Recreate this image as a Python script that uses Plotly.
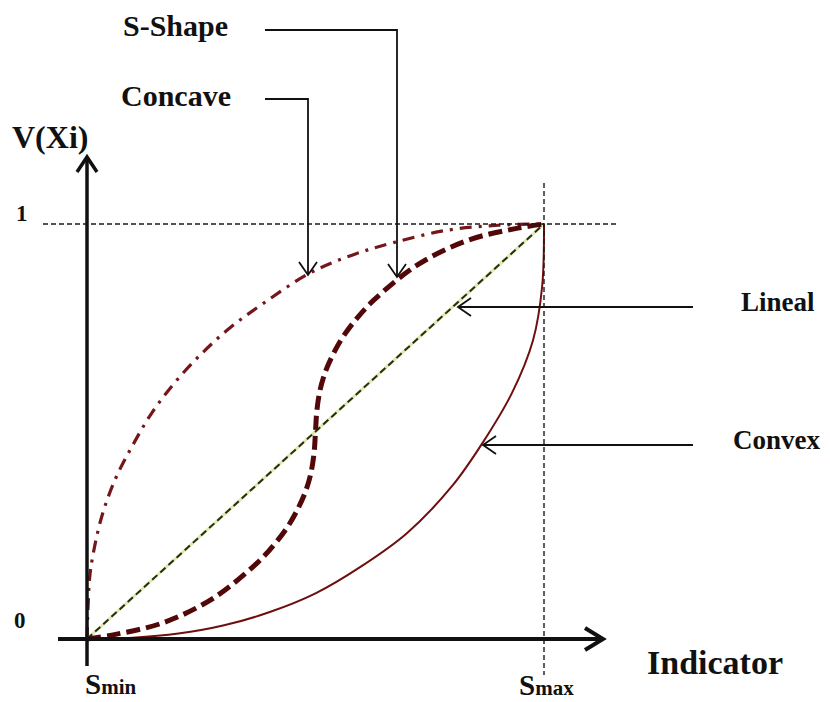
import plotly.graph_objects as go

# ---------------- data ----------------
lineal_x = [0.0, 1.0]
lineal_y = [0.0, 1.0]

concave_x = [0.0, 0.002, 0.006, 0.013, 0.032, 0.061, 0.098, 0.142, 0.193, 0.252,
             0.313, 0.385, 0.488, 0.580, 0.670, 0.788, 0.900, 1.0]
concave_y = [0.0, 0.07, 0.15, 0.202, 0.294, 0.383, 0.463, 0.545, 0.619, 0.689,
             0.750, 0.808, 0.882, 0.925, 0.955, 0.985, 0.997, 1.0]

sshape_x = [0.0, 0.057, 0.166, 0.276, 0.372, 0.410, 0.440, 0.462, 0.478, 0.490,
            0.497, 0.500, 0.503, 0.510, 0.522, 0.538, 0.560, 0.590, 0.628,
            0.724, 0.834, 0.943, 1.0]
sshape_y = [0.0, 0.010, 0.039, 0.098, 0.183, 0.228, 0.272, 0.315, 0.355, 0.400,
            0.450, 0.500, 0.550, 0.600, 0.645, 0.685, 0.728, 0.772, 0.817,
            0.902, 0.961, 0.990, 1.0]

convex_x = [0.0, 0.100, 0.200, 0.300, 0.400, 0.500, 0.600, 0.700, 0.800,
            0.867, 0.930, 0.976, 0.996, 1.0]
convex_y = [0.0, 0.003, 0.013, 0.033, 0.065, 0.110, 0.175, 0.255, 0.370,
            0.475, 0.593, 0.720, 0.850, 1.0]

curve_labels = ["S-Shape", "Concave", "Lineal", "Convex"]
axis_labels = {"y": "V(Xi)", "x": "Indicator", "one": "1", "zero": "0"}

# ---------------- layout helpers (reference pixel -> data) ----------------
PAGE_OFF = 8          # body margin of the html page
W, H = 830 - PAGE_OFF, 702 - PAGE_OFF
OX, OY = 87, 639      # reference pixel position of data origin
SX, SY = 457, 415     # pixels per data unit


def X(px):
    return (px - OX) / SX


def Y(py):
    return (OY - py) / SY


FONT = "Liberation Serif, Times New Roman, serif"
MAROON = "#6e0f0f"
DARK = "#111111"

fig = go.Figure()

# Lineal: light yellow-green underlay + dark dashes
fig.add_trace(go.Scatter(x=lineal_x, y=lineal_y, mode="lines",
                         line=dict(color="#dfe9b0", width=3), hoverinfo="skip"))
fig.add_trace(go.Scatter(x=lineal_x, y=lineal_y, mode="lines",
                         line=dict(color="#22300c", width=2, dash="7px,4px"),
                         hoverinfo="skip"))
# Concave (dash-dot)
fig.add_trace(go.Scatter(x=concave_x, y=concave_y, mode="lines",
                         line=dict(color="#74161a", width=3.2, dash="12px,7px,3px,7px",
                                   shape="spline", smoothing=1.0),
                         hoverinfo="skip"))
# S-shape (thick dashed)
fig.add_trace(go.Scatter(x=sshape_x, y=sshape_y, mode="lines",
                         line=dict(color="#520808", width=5, dash="14px,6px",
                                   shape="spline", smoothing=1.0),
                         hoverinfo="skip"))
# Convex (solid)
fig.add_trace(go.Scatter(x=convex_x, y=convex_y, mode="lines",
                         line=dict(color=MAROON, width=2, shape="spline", smoothing=1.0),
                         hoverinfo="skip"))

shapes = []


def seg(x0, y0, x1, y1, color=DARK, width=2, dash="solid"):
    shapes.append(dict(type="line", xref="x", yref="y", x0=x0, y0=y0, x1=x1, y1=y1,
                       line=dict(color=color, width=width, dash=dash)))


def path(pts, color=DARK, width=2):
    d = "M " + " L ".join(f"{px},{py}" for px, py in pts)
    shapes.append(dict(type="path", xref="x", yref="y", path=d,
                       line=dict(color=color, width=width)))


# guide lines at 1 and Smax
seg(X(43), 1, X(618), 1, color="#1a1a1a", width=1.6, dash="5px,3px")
seg(1, Y(183), 1, Y(675), color="#1a1a1a", width=1.4, dash="5px,3px")

# axes with open arrowheads
seg(0, Y(666), 0, Y(158), width=3.5)
path([(X(77), Y(172)), (0, Y(157)), (X(97), Y(172))], width=3.5)
seg(X(58), 0, X(601), 0, width=4)
path([(X(585), Y(628)), (X(603), 0), (X(585), Y(650))], width=4)

# pointer arrows
path([(X(265), Y(30)), (X(397), Y(30)), (X(397), Y(277))], width=1.8)
path([(X(388), Y(264)), (X(397), Y(277)), (X(406), Y(264))], width=1.8)
path([(X(265), Y(99)), (X(308), Y(99)), (X(308), Y(275))], width=1.8)
path([(X(299), Y(262)), (X(308), Y(275)), (X(317), Y(262))], width=1.8)
path([(X(693), Y(307)), (X(458), Y(307))], width=1.8)
path([(X(471), Y(298)), (X(458), Y(307)), (X(471), Y(316))], width=1.8)
path([(X(693), Y(445)), (X(483), Y(445))], width=1.8)
path([(X(496), Y(436)), (X(483), Y(445)), (X(496), Y(454))], width=1.8)

annotations = []


def txt(px, py, text, size, xanchor="center"):
    annotations.append(dict(x=X(px), y=Y(py), xref="x", yref="y", text=text,
                            showarrow=False, xanchor=xanchor, yanchor="middle",
                            font=dict(family=FONT, size=size, color="#111111")))


txt(175, 25, f"<b>{curve_labels[0]}</b>", 30)
txt(176, 95, f"<b>{curve_labels[1]}</b>", 30)
txt(778, 302, f"<b>{curve_labels[2]}</b>", 27)
txt(776, 440, f"<b>{curve_labels[3]}</b>", 27)
txt(50, 137, f"<b>{axis_labels['y']}</b>", 32)
txt(22, 213, f"<b>{axis_labels['one']}</b>", 23)
txt(20, 620, f"<b>{axis_labels['zero']}</b>", 23)
txt(715, 662, f"<b>{axis_labels['x']}</b>", 34)
txt(110, 684, "<b>S<span style='font-size:21px'>min</span></b>", 29)
txt(546, 685, "<b>S<span style='font-size:21px'>max</span></b>", 29)

fig.update_layout(
    width=W, height=H,
    margin=dict(l=0, r=0, t=0, b=0),
    paper_bgcolor="white", plot_bgcolor="white",
    showlegend=False,
    xaxis=dict(range=[X(PAGE_OFF), X(830)], visible=False, fixedrange=True),
    yaxis=dict(range=[Y(702), Y(PAGE_OFF)], visible=False, fixedrange=True),
    shapes=shapes, annotations=annotations,
)

fig.write_html("out.html")
